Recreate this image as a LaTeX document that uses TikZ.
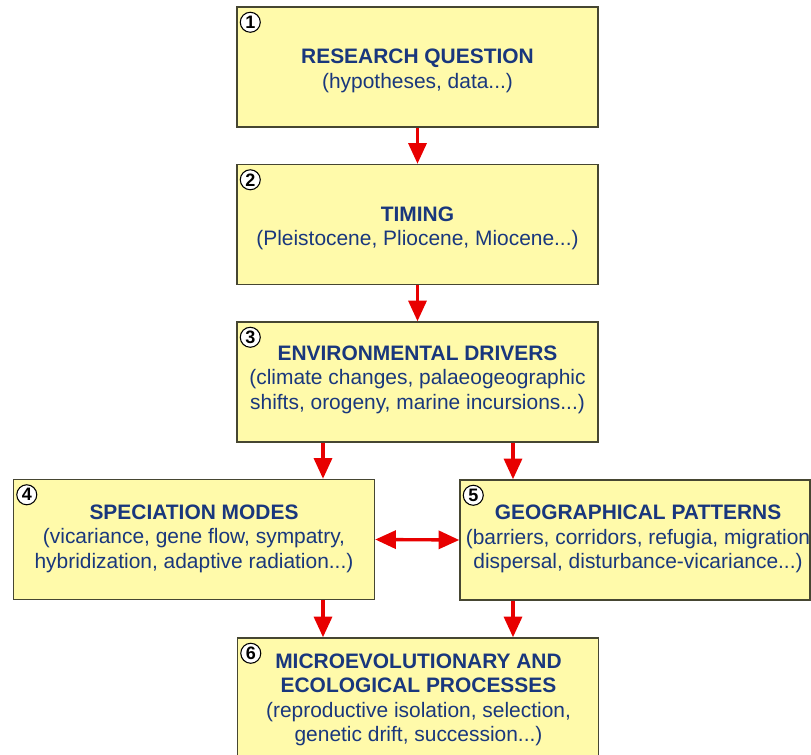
\documentclass[tikz,border=0pt]{standalone}
\usepackage{fontspec}
\setmainfont{Liberation Sans}
\usetikzlibrary{arrows.meta}
\definecolor{boxfill}{RGB}{255,250,170}
\definecolor{boxline}{RGB}{70,70,50}
\definecolor{textblue}{RGB}{25,55,125}
\definecolor{arrowred}{RGB}{232,0,0}

\begin{document}
\begin{tikzpicture}[x=0.75pt,y=-0.75pt,
        stagebox/.style={draw=boxline,line width=1.1pt,fill=boxfill,minimum width=270.75pt,minimum height=90pt,inner sep=0pt},
        stagetext/.style={text=textblue,align=center,inner sep=0pt,font=\fontsize{15.7}{18.4}\selectfont},
        numcirc/.style={circle,draw=black,line width=0.8pt,fill=white,minimum size=15pt,inner sep=0pt,font=\fontsize{13.5}{14}\selectfont\bfseries},
        flowarrow/.style={draw=arrowred,line width=2.5pt,-{Triangle[length=15.5pt,width=13.5pt]}}]
        \useasboundingbox (0,0) rectangle (811,755);
        \clip (0,0) rectangle (811,755);

        % boxes
        \node[stagebox] (b1) at (417.5,67) {};
        \node[stagebox] (b2) at (417.5,224.5) {};
        \node[stagebox] (b3) at (417.5,382) {};
        \node[stagebox] (b4) at (194,539.5) {};
        \node[stagebox,minimum width=262.5pt] (b5) at (635,540) {};
        \node[stagebox,minimum height=93pt] (b6) at (418,700) {};

        % texts
        \node[stagetext] (t1) at (417.5,71) {\textbf{RESEARCH QUESTION}\\(hypotheses, data...)};
        \node[stagetext] (t2) at (417.5,228.5) {\textbf{TIMING}\\(Pleistocene, Pliocene, Miocene...)};
        \node[stagetext] (t3) at (417.5,379.5) {\textbf{ENVIRONMENTAL DRIVERS}\\(climate changes, palaeogeographic\\shifts, orogeny, marine incursions...)};
        \node[stagetext] (t4) at (194,538.5) {\textbf{SPECIATION MODES}\\(vicariance, gene flow, sympatry,\\hybridization, adaptive radiation...)};
        \node[stagetext] (t5) at (638,539) {\textbf{GEOGRAPHICAL PATTERNS}\\(barriers, corridors, refugia, migration\\dispersal, disturbance-vicariance...)};
        \node[stagetext] (t6) at (418.5,700) {\textbf{MICROEVOLUTIONARY AND}\\\textbf{ECOLOGICAL PROCESSES}\\(reproductive isolation, selection,\\genetic drift, succession...)};

        \foreach \n in {1,...,6}{
            \node[numcirc] (c\n) at ([shift={(14,16)}]b\n.north west) {\n};
        }

        % arrows
        \coordinate (lx) at (323,0);
        \coordinate (rx) at (513,0);
        \draw[flowarrow] (b1) -- (b2);
        \draw[flowarrow] (b2) -- (b3);
        \draw[flowarrow] (b3.south -| lx) -- (b4.north -| lx);
        \draw[flowarrow] (b3.south -| rx) -- (b5.north -| rx);
        \draw[flowarrow] (b4.south -| lx) -- (b6.north -| lx);
        \draw[flowarrow] (b5.south -| rx) -- (b6.north -| rx);
        \draw[flowarrow,{Triangle[length=15.5pt,width=13.5pt]}-{Triangle[length=15.5pt,width=13.5pt]}] (b4.east) -- (b5.west);
    \end{tikzpicture}
\end{document}
